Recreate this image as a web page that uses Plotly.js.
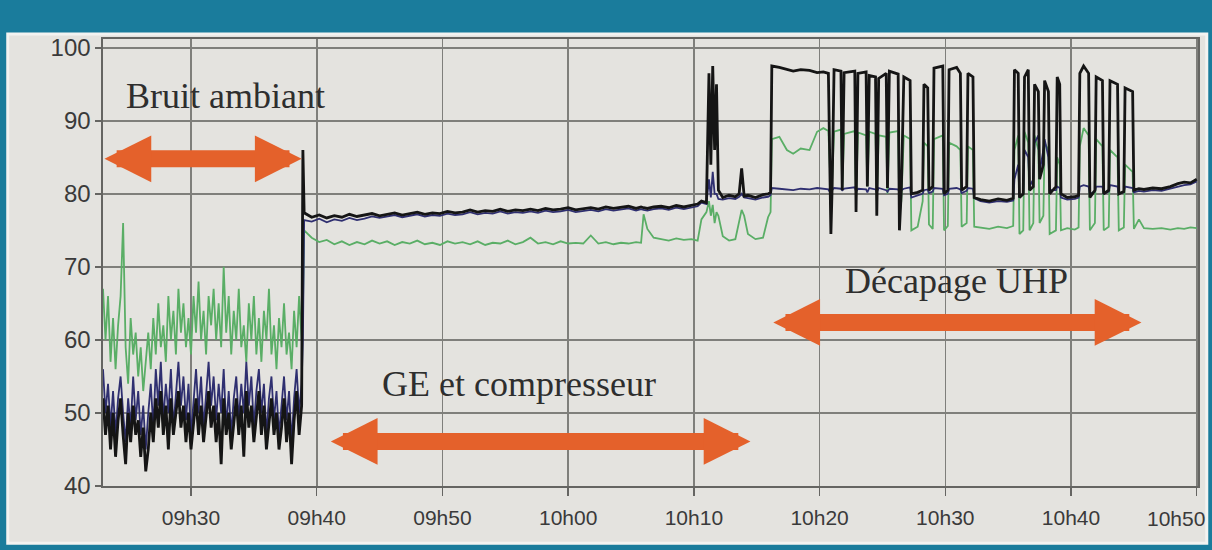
<!DOCTYPE html>
<html>
<head>
<meta charset="utf-8">
<script src="https://cdn.plot.ly/plotly-3.0.1.min.js"></script>
<style>
  html, body { margin: 0; padding: 0; background: #1a7c9c; }
  #chart { width: 1212px; height: 550px; }
</style>
</head>
<body>
<div id="chart"></div>
<script>
// ---- Time axis: minutes after 09h00 ----
const tickMinutes = [30, 40, 50, 60, 70, 80, 90, 100, 110];
const tickLabels = ["09h30", "09h40", "09h50", "10h00", "10h10", "10h20", "10h30", "10h40", "10h50"];
const levelTicks = [40, 50, 60, 70, 80, 90, 100];
const levelLabels = ["40", "50", "60", "70", "80", "90", "100"];

// ---- Segment A : bruit ambiant (09h23 - 09h39) ----
const minutesA = [
  23.0,23.2,23.4,23.6,23.8,24.0,24.2,24.4,24.6,24.8,
  25.0,25.2,25.4,25.6,25.8,26.0,26.2,26.4,26.6,26.8,
  27.0,27.2,27.4,27.6,27.8,28.0,28.2,28.4,28.6,28.8,
  29.0,29.2,29.4,29.6,29.8,30.0,30.2,30.4,30.6,30.8,
  31.0,31.2,31.4,31.6,31.8,32.0,32.2,32.4,32.6,32.8,
  33.0,33.2,33.4,33.6,33.8,34.0,34.2,34.4,34.6,34.8,
  35.0,35.2,35.4,35.6,35.8,36.0,36.2,36.4,36.6,36.8,
  37.0,37.2,37.4,37.6,37.8,38.0,38.2,38.4,38.6,38.8
];
const greenA = [
  67,60,66,57,63,56,62,66,76,59,
  54,63,58,61,55,59,53,57,61,56,
  63,58,65,59,62,57,66,60,64,58,
  67,61,65,59,63,58,66,61,68,60,
  64,58,66,62,67,60,65,59,70,61,
  66,58,64,60,67,59,62,57,65,60,
  66,58,63,57,64,60,67,58,62,56,
  63,59,65,58,61,56,64,59,66,60
];
const navyA = [
  56,50,54,48,53,47,52,55,50,46,
  52,48,55,49,53,47,51,45,50,54,
  48,56,51,57,49,54,50,56,48,53,
  57,51,55,49,54,47,52,56,50,55,
  48,53,57,51,55,49,54,50,56,48,
  53,47,52,55,49,54,50,57,51,55,
  48,53,56,50,54,47,52,55,49,53,
  47,51,55,49,53,46,52,56,50,54
];
const blackA = [
  52,47,51,45,50,44,49,52,47,43,
  50,46,51,47,49,44,48,42,45,50,
  46,52,48,53,47,51,45,52,47,50,
  53,48,51,46,50,45,49,52,47,51,
  46,50,53,48,51,46,50,43,52,47,
  50,45,49,52,47,51,44,53,48,51,
  46,50,53,47,51,45,49,52,47,50,
  45,48,52,46,50,43,49,53,47,51
];

// ---- Segment B : GE et compresseur (09h39 - 10h10) ----
const minutesB = [
  38.9,39.0,39.6,40.2,40.8,41.4,42.0,42.6,43.2,43.8,44.4,45.0,
  45.6,46.2,46.8,47.4,48.0,48.6,49.2,49.8,50.4,51.0,
  51.6,52.2,52.8,53.4,54.0,54.6,55.2,55.8,56.4,57.0,
  57.6,58.2,58.8,59.4,60.0,60.6,61.2,61.8,62.4,63.0,
  63.6,64.2,64.8,65.4,65.8,66.0,66.3,66.8,67.4,68.0,68.6,69.2,69.8,70.3
];
const blackB = [
  86,77.4,76.8,77.1,76.7,77.0,76.8,77.2,76.9,77.1,77.3,77.0,
  77.2,77.4,77.1,77.3,77.5,77.2,77.4,77.3,77.6,77.4,
  77.5,77.8,77.5,77.7,77.6,77.9,77.6,77.8,77.7,77.9,
  77.7,78.0,77.8,77.9,78.1,77.8,78.0,78.1,77.9,78.2,
  78.0,78.1,78.3,78.0,78.2,78.1,78.0,78.2,78.3,78.1,78.4,78.2,78.4,78.6
];
const navyB = [
  60,76.4,76.2,76.6,76.1,76.5,76.3,76.7,76.4,76.6,76.9,76.7,
  76.9,77.1,76.8,77.0,77.2,76.9,77.1,77.0,77.3,77.1,
  77.2,77.5,77.2,77.4,77.3,77.6,77.3,77.5,77.4,77.6,
  77.4,77.7,77.5,77.6,77.8,77.5,77.7,77.8,77.6,77.9,
  77.7,77.8,78.0,77.7,77.9,77.8,77.7,77.9,78.0,77.8,78.1,77.9,78.1,78.3
];
const greenB = [
  64,75.0,74.0,73.4,73.7,73.1,73.5,73.0,73.4,73.1,73.6,73.2,
  73.5,73.0,73.4,73.2,73.6,73.1,73.3,73.0,73.5,73.2,
  73.4,73.1,73.5,73.0,73.3,73.2,73.6,73.1,73.4,74.0,
  73.2,73.4,73.1,73.5,73.2,73.3,73.2,74.3,73.2,73.4,
  73.1,73.3,73.2,73.4,73.3,77.2,75.2,74.0,73.8,73.6,73.9,73.7,73.8,73.6
];

// ---- Segment C : décapage UHP (10h10 - 10h50) ----
const minutesC = [
  70.6,71.0,71.2,71.35,71.5,71.65,71.8,71.95,72.3,72.8,
  73.3,73.6,73.8,74.0,74.3,74.9,75.5,75.9,76.1,76.2,
  76.8,77.4,77.9,78.5,79.2,79.8,80.3,80.7,80.9,81.0,
  81.15,81.7,81.8,81.95,82.8,82.9,83.05,83.7,83.8,83.95,
  84.45,84.55,84.7,85.3,85.4,85.55,86.25,86.35,86.5,86.7,
  87.2,87.3,87.8,88.2,88.3,88.6,88.7,89.0,89.1,89.8,
  89.9,90.2,90.3,90.9,91.2,91.3,91.7,91.8,92.2,92.3,
  92.8,93.5,94.2,94.9,95.4,95.5,95.8,95.9,96.2,96.3,
  96.6,96.7,97.0,97.1,97.4,97.5,97.8,97.9,98.2,98.3,
  98.8,98.9,99.1,99.2,99.7,100.3,100.6,100.7,101.0,101.4,
  101.5,101.9,102.0,102.5,102.6,103.0,103.1,103.7,103.8,104.2,
  104.3,104.9,105.0,105.4,105.8,106.5,107.2,107.9,108.5,109.0,
  109.5,110.0
];
const blackC = [
  79.0,78.8,96.5,84.0,97.5,86.0,95.0,80.5,79.5,79.8,
  79.6,80.0,83.5,79.7,79.8,79.5,79.9,80.0,80.2,97.5,
  97.3,97.0,96.8,97.0,96.9,96.6,96.7,96.5,74.5,81.0,
  97.0,96.8,80.5,96.6,96.8,77.5,96.5,96.7,81.0,96.2,
  96.0,77.0,95.8,96.5,80.8,96.8,96.4,75.0,80.5,96.0,
  95.5,80.0,80.2,80.5,95.0,94.5,80.5,81.0,97.2,97.5,
  80.0,80.5,97.0,97.3,96.5,80.5,81.0,96.5,96.0,79.5,
  79.2,79.0,79.3,79.1,79.4,97.0,96.5,79.5,80.0,96.0,
  97.0,80.5,81.0,95.0,94.0,82.0,84.0,95.5,94.0,80.0,
  81.0,96.0,95.0,80.0,79.5,79.6,79.8,96.5,97.5,96.5,
  79.5,80.5,96.0,95.5,80.0,80.5,95.5,95.0,80.0,80.3,
  94.5,94.0,80.5,80.7,80.6,80.8,80.7,81.0,81.4,81.6,
  81.5,82.0
];
const navyC = [
  78.8,78.6,82.0,79.5,83.0,80.0,80.0,79.3,79.2,79.4,
  79.3,79.6,80.0,79.5,79.4,79.2,79.5,79.6,79.8,80.8,
  80.7,80.6,80.5,80.7,80.6,80.8,80.7,80.6,80.0,80.5,
  80.8,80.7,80.5,80.7,80.9,80.3,80.7,80.6,80.2,80.8,
  80.6,80.2,80.8,80.5,80.3,80.7,80.6,80.2,80.5,80.7,
  80.9,79.5,79.8,80.0,80.5,80.6,80.1,80.3,80.8,80.7,
  79.8,80.0,80.7,80.8,80.6,80.1,80.4,80.8,80.7,79.4,
  79.0,78.8,79.0,78.9,79.1,82.0,84.0,79.5,80.0,86.0,
  85.0,81.0,82.0,87.0,88.0,83.0,86.0,87.5,85.0,80.5,
  80.5,81.0,80.8,79.5,79.2,79.3,79.5,81.0,81.2,81.0,
  80.0,80.3,81.0,81.0,80.0,80.3,81.2,81.0,80.0,80.2,
  81.0,80.8,80.2,80.4,80.3,80.5,80.4,80.7,81.0,81.2,
  81.3,81.7
];
const greenC = [
  76.5,77.5,79.0,77.0,78.5,76.0,77.5,77.0,74.2,73.6,
  73.8,76.5,77.8,77.0,74.5,73.8,74.0,76.8,77.5,87.5,
  87.8,86.0,85.5,86.2,86.0,88.5,89.0,88.6,80.0,82.0,
  88.5,88.8,80.5,88.2,88.6,79.0,88.4,88.0,81.0,88.5,
  88.2,79.0,88.0,87.8,80.0,88.4,88.6,77.0,79.0,88.0,
  87.5,75.0,75.5,79.0,87.0,86.5,75.8,75.2,87.5,88.0,
  75.0,75.6,87.0,86.5,86.0,75.5,76.0,86.5,86.0,75.5,
  75.4,75.2,75.5,75.3,75.6,86.0,88.0,74.5,75.0,88.5,
  87.0,75.0,76.0,88.0,86.0,76.0,77.0,87.0,86.0,74.5,
  75.0,85.0,84.0,75.0,75.3,75.1,75.4,86.5,89.0,88.0,
  75.0,76.0,87.5,86.5,75.0,75.5,86.0,85.0,75.0,75.4,
  84.0,83.0,75.2,76.5,75.3,75.2,75.3,75.1,75.3,75.2,
  75.4,75.3
];

// ---- Annotations (text and arrows) ----
const phaseNames = ["Bruit ambiant", "GE et compresseur", "Décapage UHP"];
const phaseTextPos = [[24.7, 93.4], [45.0, 54.0], [81.9, 68.0]];
const phaseArrows = [[23.0, 38.8, 84.8], [41.0, 74.5, 46.1], [76.2, 105.6, 62.4]];

// ---- Build traces ----
const minutes = minutesA.concat(minutesB, minutesC);
const green = greenA.concat(greenB, greenC);
const navy = navyA.concat(navyB, navyC);
const black = blackA.concat(blackB, blackC);

const traces = [
  { x: minutes, y: green, type: 'scatter', mode: 'lines', line: { color: '#5aae66', width: 1.8 }, name: 'green' },
  { x: minutes, y: navy, type: 'scatter', mode: 'lines', line: { color: '#2f2f70', width: 1.8 }, name: 'navy' },
  { x: minutes, y: black, type: 'scatter', mode: 'lines', line: { color: '#151515', width: 2.8 }, name: 'black' }
];

const tickFontX = { family: 'Liberation Sans, Arial, sans-serif', size: 21, color: '#3a3a3a' };
const tickFontY = { family: 'Liberation Sans, Arial, sans-serif', size: 24, color: '#3a3a3a' };

// the last time label sits against the right edge, so it is drawn right-aligned
const lastIdx = tickLabels.length - 1;
const shownTickText = tickLabels.slice(0, lastIdx).concat(['']);

const annotations = [];
phaseNames.forEach((name, i) => {
  annotations.push({
    x: phaseTextPos[i][0], y: phaseTextPos[i][1], xref: 'x', yref: 'y',
    text: name, showarrow: false, xanchor: 'left', yanchor: 'middle',
    font: { family: 'Liberation Serif, Times New Roman, serif', size: 36, color: '#2e2e2e' }
  });
  annotations.push({
    x: phaseArrows[i][1], y: phaseArrows[i][2], ax: phaseArrows[i][0], ay: phaseArrows[i][2],
    xref: 'x', yref: 'y', axref: 'x', ayref: 'y',
    text: '', showarrow: true, arrowside: 'end+start',
    arrowhead: 2, startarrowhead: 2, arrowsize: 0.55, startarrowsize: 0.55,
    arrowwidth: 17, arrowcolor: '#e4612b', standoff: 0, startstandoff: 0
  });
});
annotations.push({
  x: tickMinutes[lastIdx], y: 0, xref: 'x', yref: 'paper',
  text: tickLabels[lastIdx], showarrow: false, xanchor: 'right', yanchor: 'top',
  xshift: 10, yshift: -19, font: tickFontX
});

const layout = {
  width: 1212, height: 550,
  margin: { l: 103, r: 14, t: 39, b: 64 },
  paper_bgcolor: '#1a7c9c',
  plot_bgcolor: 'rgba(0,0,0,0)',
  showlegend: false,
  xaxis: {
    range: [23, 110.1], tickmode: 'array', tickvals: tickMinutes, ticktext: shownTickText,
    ticklabelstandoff: 4,
    showgrid: true, gridcolor: '#7f7f7b', gridwidth: 1.6, zeroline: false,
    showline: true, linecolor: '#656562', linewidth: 1.6, mirror: true,
    ticks: 'outside', ticklen: 8, tickcolor: '#656562', tickwidth: 1.5, tickfont: tickFontX
  },
  yaxis: {
    range: [40, 101.2], tickmode: 'array', tickvals: levelTicks, ticktext: levelLabels,
    showgrid: true, gridcolor: '#7f7f7b', gridwidth: 1.6, zeroline: false,
    showline: true, linecolor: '#656562', linewidth: 1.6, mirror: true,
    ticks: 'outside', ticklen: 6, tickcolor: '#656562', tickwidth: 1.5, tickfont: tickFontY
  },
  shapes: [{
    type: 'rect', xref: 'paper', yref: 'paper', layer: 'below',
    x0: -0.087, x1: 1.008, y0: -0.128, y1: 1.011,
    fillcolor: '#e4e3df', line: { color: '#f3f3f1', width: 3 }
  }],
  annotations: annotations
};

Plotly.newPlot('chart', traces, layout, { displayModeBar: false, staticPlot: true });
</script>
</body>
</html>
